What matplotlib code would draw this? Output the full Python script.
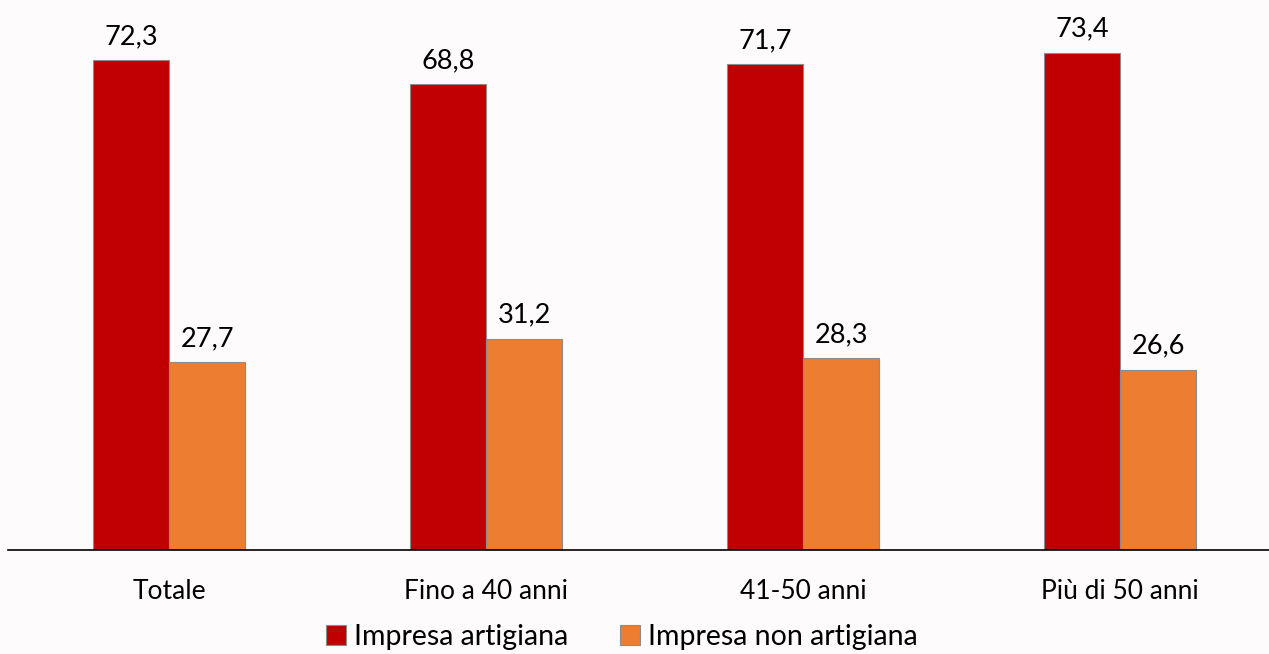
import matplotlib.pyplot as plt
import numpy as np

plt.rcParams['font.family'] = ['Lato', 'DejaVu Sans']

categorie = ["Totale", "Fino a 40 anni", "41-50 anni", "Più di 50 anni"]
artigiana = [72.3, 68.8, 71.7, 73.4]
non_artigiana = [27.7, 31.2, 28.3, 26.6]
serie = ["Impresa artigiana", "Impresa non artigiana"]

fig = plt.figure(figsize=(12.69, 6.54), dpi=100)
fig.patch.set_facecolor("#fdfbfb")
ax = fig.add_axes([8 / 1269, 104 / 654, 1261 / 1269, 550 / 654])
ax.set_facecolor("none")

x = np.arange(len(categorie))
w = 0.24
b1 = ax.bar(x - w / 2, artigiana, w, color="#c00000", edgecolor="#8c8c8c", linewidth=0.8, label=serie[0])
b2 = ax.bar(x + w / 2, non_artigiana, w, color="#ed7d31", edgecolor="#8c8c8c", linewidth=0.8, label=serie[1])

for bars in (b1, b2):
    for r in bars:
        ax.annotate(f"{r.get_height():.1f}".replace(".", ","),
                    (r.get_x() + r.get_width() / 2, r.get_height()),
                    xytext=(0, 8), textcoords="offset points",
                    ha="center", va="bottom", fontsize=19.5)

ax.set_xlim(-0.508, 3.47)
ax.set_ylim(0, 81.2)
ax.set_yticks([])
ax.set_xticks(x)
ax.set_xticklabels(categorie, fontsize=19)
ax.tick_params(axis="x", length=0, pad=21)
for s in ["top", "right", "left"]:
    ax.spines[s].set_visible(False)
ax.spines["bottom"].set_linewidth(1.2)

fig.legend(loc="center", bbox_to_anchor=(622 / 1269, 17 / 654), ncol=2, frameon=False,
           fontsize=20.5, handlelength=0.7, handleheight=0.7, handletextpad=0.3, columnspacing=1.8)

fig.savefig("out.png", dpi=100, facecolor=fig.get_facecolor())
